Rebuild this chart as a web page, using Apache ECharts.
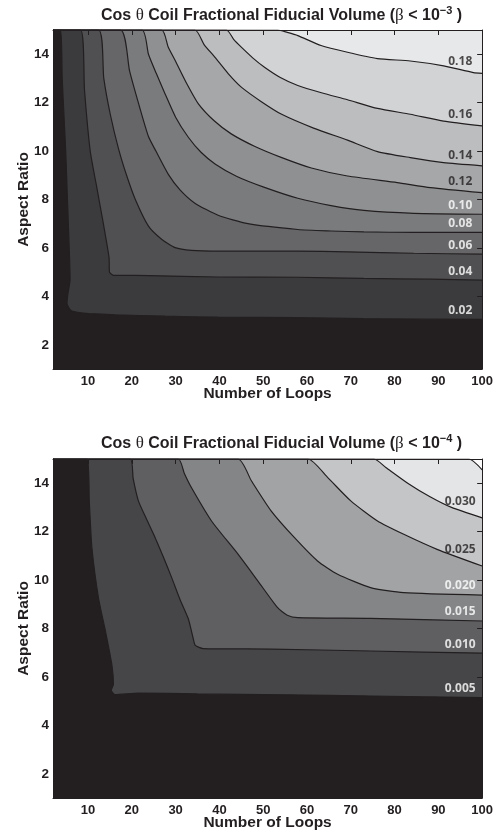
<!DOCTYPE html>
<html>
<head>
<meta charset="utf-8">
<script src="https://cdn.jsdelivr.net/npm/echarts@6.0.0/dist/echarts.min.js"></script>
</head>
<body style="margin:0;background:#fff">
<div id="container" style="width:496px;height:839px"></div>
<script>
// axis ticks
var xTicks = [10, 20, 30, 40, 50, 60, 70, 80, 90, 100];
var yTicks = [2, 4, 6, 8, 10, 12, 14];

// beta < 1e-3 : contour lines, [number of loops, aspect ratio]
var labels3 = ['0.02', '0.04', '0.06', '0.08', '0.10', '0.12', '0.14', '0.16', '0.18'];
var b3_02 = [[3.7, 15], [4.1, 13], [4.5, 11.5], [4.9, 10], [5.3, 8], [5.7, 6], [5.9, 4.7], [5.4, 4.1], [5.2, 3.7], [6.1, 3.42], [8, 3.33], [10.2, 3.29], [16.2, 3.24], [27.6, 3.18], [39.7, 3.14], [57.9, 3.12], [73, 3.08], [100, 3.05]];
var b3_04 = [[8.3, 15], [9.2, 12.5], [10.5, 10], [12, 8.5], [13.5, 7], [14.8, 5.6], [14.9, 5.0], [15.8, 4.87], [23.8, 4.86], [39.7, 4.8], [57.9, 4.79], [73, 4.74], [88.2, 4.71], [100, 4.67]];
var b3_06 = [[12.4, 15], [13.6, 13], [15.1, 11.5], [17, 10.07], [18.8, 9], [20.8, 8], [23.8, 6.9], [26.8, 6.36], [29.9, 6.01], [33.6, 5.9], [39.7, 5.87], [57.9, 5.87], [69.25, 5.84], [84.4, 5.78], [100, 5.74]];
var b3_08 = [[17.4, 15], [19.5, 13.3], [21.8, 11.8], [23.8, 10.6], [25.5, 10], [28.3, 9.05], [31, 8.4], [34.4, 7.85], [39.7, 7.35], [46.5, 7.0], [57.9, 6.76], [65.5, 6.70], [73, 6.66], [84.4, 6.64], [100, 6.64]];
var b3_10 = [[22.3, 15], [23.8, 14.0], [25.6, 13.2], [27.6, 12.36], [30, 11.4], [32.9, 10.57], [35.8, 9.95], [39, 9.47], [44, 8.95], [50.3, 8.5], [57.9, 8.05], [65.5, 7.75], [73, 7.55], [84.4, 7.43], [100, 7.39]];
var b3_12 = [[26.8, 15], [28.3, 14.3], [29.9, 13.74], [32.5, 12.8], [35.2, 11.95], [38.8, 11.25], [42.7, 10.71], [48, 10.2], [54.1, 9.74], [61, 9.3], [69.25, 8.97], [80.6, 8.70], [88.2, 8.49], [100, 8.28]];
var b3_14 = [[34.4, 15], [36.5, 14.4], [38.95, 13.88], [42, 13.2], [45, 12.64], [49.5, 12.05], [54.1, 11.53], [61.5, 10.95], [69.25, 10.45], [76.1, 9.98], [83.6, 9.73], [91.2, 9.52], [100, 9.39]];
var b3_16 = [[41.6, 15], [43.3, 14.6], [45, 14.29], [47.6, 13.85], [50.3, 13.46], [53.8, 13.05], [57.9, 12.71], [63.5, 12.4], [69.25, 12.12], [76.1, 11.76], [83.6, 11.52], [91.2, 11.24], [100, 11.04]];
var b3_18 = [[53.3, 15], [55.5, 14.9], [57.9, 14.77], [63.2, 14.36], [69.25, 14.08], [76.1, 13.82], [83.6, 13.72], [91.2, 13.52], [98, 13.24], [100, 13.21]];

// beta < 1e-4
var labels4 = ['0.005', '0.010', '0.015', '0.020', '0.025', '0.030', ''];
var b4_005 = [[9.8, 15], [10.3, 13.2], [10.9, 11.3], [12.4, 9.25], [14, 7.87], [15.45, 6.5], [15.8, 5.7], [15.3, 5.45], [16.2, 5.27], [21.5, 5.33], [35, 5.3], [55, 5.26], [75, 5.21], [100, 5.15]];
var b4_010 = [[19.6, 15], [20.3, 14.2], [21.5, 13.27], [23.4, 12.5], [25.3, 11.76], [27.2, 10.95], [29.1, 10.1], [31, 9.2], [32.9, 8.4], [34, 7.6], [34.5, 7.3], [36.3, 7.17], [51.8, 7.15], [74.5, 7.07], [100, 6.98]];
var b4_015 = [[30.6, 15], [32, 14.4], [33.6, 13.82], [38.2, 12.44], [44.25, 11.07], [48.8, 9.96], [53.3, 8.86], [55.5, 8.55], [57.9, 8.45], [74.5, 8.42], [100, 8.31]];
var b4_020 = [[44.25, 15], [47.3, 14.1], [51.8, 12.86], [57.1, 11.76], [62.4, 10.79], [67, 10.24], [74.5, 9.69], [82.1, 9.48], [100, 9.38]];
var b4_025 = [[60.2, 15], [64.7, 14.24], [70, 13.27], [76.1, 12.44], [82.1, 11.89], [89.7, 11.27], [100, 10.58]];
var b4_030 = [[75.3, 15], [78, 14.65], [83, 14.0], [88, 13.45], [93, 13.0], [100, 12.57]];
var b4_035 = [[97, 15], [100, 14.55]];

var lines3 = [b3_02, b3_04, b3_06, b3_08, b3_10, b3_12, b3_14, b3_16, b3_18];
var lines4 = [b4_005, b4_010, b4_015, b4_020, b4_025, b4_030, b4_035];

// gray bands, darkest first (band below each contour, last = above all)
var gray3 = ['#231f20', '#3b3b3d', '#505052', '#666668', '#7a7b7d', '#8f9092', '#a6a7a9', '#bcbdbf', '#d2d3d5', '#e7e8e9'];
var gray4 = ['#231f20', '#464648', '#5f5f61', '#848587', '#a2a3a5', '#c4c5c7', '#e4e5e6', '#fcfcfc'];
var ink = '#231f20';
var LABEL_X = 95;

function yAt(pts, x) {
    for (var i = pts.length - 1; i > 0; i--) {
        var a = pts[i - 1], b = pts[i];
        if (a[0] <= x && b[0] >= x) {
            return a[1] + (b[1] - a[1]) * (x - a[0]) / (b[0] - a[0]);
        }
    }
    return pts[pts.length - 1][1];
}

function contourSeries(lines, labels, gray, g, darkFrom) {
    var out = [];
    // highest level first so lower fills paint over
    for (var i = lines.length - 1; i >= 0; i--) {
        out.push({
            type: 'line',
            xAxisIndex: g * 2,
            yAxisIndex: g * 2,
            data: [[2, 15]].concat(lines[i]),
            symbol: 'none',
            smooth: 0.2,
            silent: true,
            lineStyle: { color: ink, width: 1.2 },
            areaStyle: { color: gray[i], opacity: 1, origin: 'start' }
        });
    }
    var pts = [];
    for (var j = 0; j < lines.length; j++) {
        if (!labels[j]) continue;
        pts.push({
            value: [LABEL_X, yAt(lines[j], LABEL_X)],
            name: labels[j],
            label: { color: j >= darkFrom ? ink : '#ffffff' }
        });
    }
    out.push({
        type: 'scatter',
        xAxisIndex: g * 2,
        yAxisIndex: g * 2,
        data: pts,
        symbolSize: 1,
        itemStyle: { color: 'rgba(0,0,0,0)' },
        silent: true,
        z: 5,
        label: {
            show: true,
            position: 'top',
            distance: 2,
            formatter: '{b}',
            fontFamily: 'Open Sans',
            fontWeight: 'bold',
            fontSize: 12
        }
    });
    return out;
}

var font = 'Liberation Sans';

function xAxes(g) {
    return [{
        gridIndex: g, type: 'value', min: 2, max: 100, position: 'bottom', z: 10,
        axisLine: { lineStyle: { color: ink, width: 1 } },
        axisTick: { inside: true, length: 5, customValues: xTicks, lineStyle: { color: ink } },
        axisLabel: { customValues: xTicks, color: ink, fontFamily: font, fontWeight: 'bold', fontSize: 13, margin: 6 },
        splitLine: { show: false },
        name: 'Number of Loops', nameLocation: 'middle', nameGap: 17, nameMoveOverlap: false,
        nameTextStyle: { color: ink, fontFamily: font, fontWeight: 'bold', fontSize: 15.5, verticalAlign: 'top' }
    }, {
        gridIndex: g, type: 'value', min: 2, max: 100, position: 'top', z: 10,
        axisLine: { lineStyle: { color: ink, width: 1 } },
        axisTick: { inside: true, length: 5, customValues: xTicks, lineStyle: { color: ink } },
        axisLabel: { show: false },
        splitLine: { show: false }
    }];
}

function yAxes(g) {
    return [{
        gridIndex: g, type: 'value', min: 1, max: 15, position: 'left', z: 10,
        axisLine: { lineStyle: { color: ink, width: 1 } },
        axisTick: { inside: true, length: 5, customValues: yTicks, lineStyle: { color: ink } },
        axisLabel: { customValues: yTicks, color: ink, fontFamily: font, fontWeight: 'bold', fontSize: 13.5, margin: 4 },
        splitLine: { show: false },
        name: 'Aspect Ratio', nameLocation: 'middle', nameGap: 21, nameMoveOverlap: false,
        nameTextStyle: { color: ink, fontFamily: font, fontWeight: 'bold', fontSize: 15.5 }
    }, {
        gridIndex: g, type: 'value', min: 1, max: 15, position: 'right', z: 10,
        axisLine: { lineStyle: { color: ink, width: 1 } },
        axisTick: { inside: true, length: 5, customValues: yTicks, lineStyle: { color: ink } },
        axisLabel: { show: false },
        splitLine: { show: false }
    }];
}

function titleOf(exp, top) {
    return {
        text: '{b|Cos }{g|θ}{b| Coil Fractional Fiducial Volume (}{g|β}{b| < 10}{s|' + exp + '}{b| )}',
        left: 96,
        top: top,
        textStyle: {
            rich: {
                b: { fontFamily: font, fontWeight: 'bold', fontSize: 16, color: ink, lineHeight: 22 },
                g: { fontFamily: 'Liberation Serif', fontWeight: 'normal', fontSize: 17, color: ink, lineHeight: 22 },
                s: { fontFamily: font, fontWeight: 'bold', fontSize: 11, color: ink, lineHeight: 12, verticalAlign: 'top' }
            }
        }
    };
}

var myChart = echarts.init(document.getElementById('container'));
var option = {
    animation: false,
    backgroundColor: '#ffffff',
    title: [titleOf('−3', 0), titleOf('−4', 428)],
    grid: [
        { left: 53, top: 30, width: 432, height: 339, show: true, borderWidth: 0, backgroundColor: gray3[gray3.length - 1] },
        { left: 53, top: 459, width: 432, height: 339, show: true, borderWidth: 0, backgroundColor: gray4[gray4.length - 1] }
    ],
    xAxis: xAxes(0).concat(xAxes(1)),
    yAxis: yAxes(0).concat(yAxes(1)),
    series: contourSeries(lines3, labels3, gray3, 0, 5).concat(contourSeries(lines4, labels4, gray4, 1, 4))
};
myChart.setOption(option);
</script>
</body>
</html>
